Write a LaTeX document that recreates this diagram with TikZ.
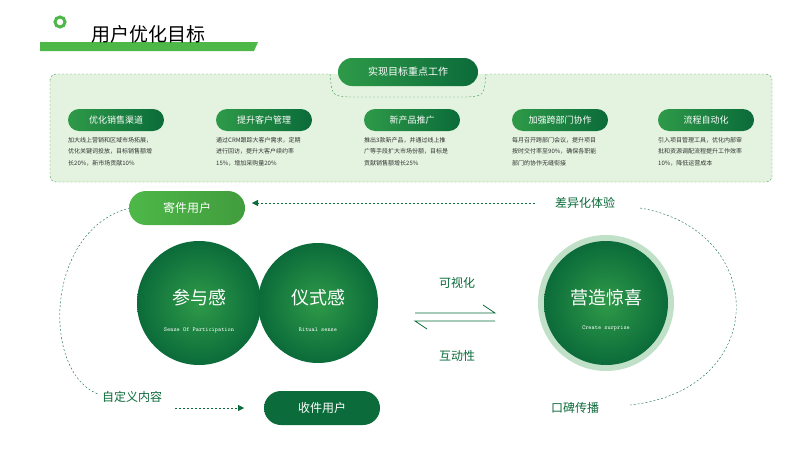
\documentclass[tikz,border=0pt]{standalone}
\usepackage{fontspec}
\setmainfont{Noto Sans CJK SC}
\usetikzlibrary{arrows.meta,shadings}
\definecolor{dg}{HTML}{0B6B3A}
\definecolor{mg}{HTML}{2E9A48}
\definecolor{lg}{HTML}{4DB848}
\definecolor{bx}{HTML}{E3F3DF}
\definecolor{bd}{HTML}{3E9A50}
\tikzset{
 pill/.style={rounded corners=11pt,minimum width=96pt,minimum height=22pt,left color=mg,right color=dg,text=white,font=\fontsize{9}{9}\selectfont},
 desc/.style={anchor=north west,align=left,font=\fontsize{6}{11.5}\selectfont,text=black!80,inner sep=0pt},
 lab/.style={text=dg,font=\fontsize{12}{12}\selectfont},
 dl/.style={dashed,dash pattern=on 2pt off 2pt,dg,thin}
}
\begin{document}
\begin{tikzpicture}[x=1pt,y=-1pt]
\useasboundingbox (0,0) rectangle (800,450);
\fill[white] (0,0) rectangle (800,450);
\draw[lg,line width=3pt] (60,22) circle (5);
\fill[lg] (40,42) -- (258,42) -- (254,51) -- (40,51) -- cycle;
\node[anchor=west,font=\fontsize{19}{19}\selectfont] (title) at (88,34) {用户优化目标};
\draw[bd,fill=bx,dashed,dash pattern=on 2pt off 2pt,rounded corners=6pt] (50,74) rectangle (772,182);
\fill[white] (328,60) rectangle (488,74);
\draw[bd,fill=bx,dashed,dash pattern=on 2pt off 2pt] (330,74) arc (180:90:0) -- (330,74) .. controls (332,96) .. (350,97) -- (466,97) .. controls (484,96) .. (486,74);
\fill[bx] (331,73.5) rectangle (485,80);
\node[pill,minimum width=140pt,minimum height=28pt,rounded corners=14pt,font=\fontsize{10}{10}\selectfont] (tab) at (408,72) {实现目标重点工作};
\foreach \x/\t/\d [count=\i] in {
 116/优化销售渠道/{加大线上营销和区域市场拓展，\\优化关键词投放，目标销售额增\\长20\%，新市场贡献10\%},
 264/提升客户管理/{通过CRM跟踪大客户需求，定期\\进行回访，提升大客户续约率\\15\%，增加采购量20\%},
 412/新产品推广/{推出3款新产品，并通过线上推\\广等手段扩大市场份额，目标是\\贡献销售额增长25\%},
 560/加强跨部门协作/{每月召开跨部门会议，提升项目\\按时交付率至90\%，确保各职能\\部门的协作无缝衔接},
 706/流程自动化/{引入项目管理工具，优化内部审\\批和资源调配流程提升工作效率\\10\%，降低运营成本}}{
 \node[pill] (p\i) at (\x,120) {\t};
 \node[desc] (d\i) at (\x-48,137) {\d};
}
% loop
\draw[dl] (130,208) .. controls (40,230) and (40,390) .. (110,397);
\draw[dl] (640,208) .. controls (770,230) and (770,390) .. (630,405);
\draw[dl,-{Triangle[length=6pt,width=6pt]}] (535,203) -- (252,203);
\draw[dl,-{Triangle[length=6pt,width=6pt]}] (175,408) -- (244,408);
\node[pill,left color=lg,right color=lg!85!black,minimum width=116pt,minimum height=34pt,rounded corners=17pt,font=\fontsize{12}{12}\selectfont] (send) at (187,208) {寄件用户};
\node[pill,left color=dg,right color=dg,minimum width=116pt,minimum height=34pt,rounded corners=17pt,font=\fontsize{12}{12}\selectfont] (recv) at (322,408) {收件用户};
\node[lab,fill=white] (diff) at (585,203) {差异化体验};
\node[lab,fill=white] (cust) at (132,397) {自定义内容};
\node[lab,fill=white] (word) at (575,408) {口碑传播};
% circles
\shade[inner color=mg,outer color=dg] (199,303) circle (62);
\shade[inner color=mg,outer color=dg] (318,303) circle (60);
\fill[mg!30] (606,303) circle (68);
\shade[inner color=mg,outer color=dg] (606,303) circle (62);
\node[text=white,font=\fontsize{18}{18}\selectfont] (c1) at (199,298) {参与感};
\node[text=white,font=\ttfamily\fontsize{6}{6}\selectfont] (c1s) at (199,330) {Sense Of Participation};
\node[text=white,font=\fontsize{18}{18}\selectfont] (c2) at (318,298) {仪式感};
\node[text=white,font=\ttfamily\fontsize{6}{6}\selectfont] (c2s) at (318,330) {Ritual sense};
\node[text=white,font=\fontsize{18}{18}\selectfont] (c3) at (606,298) {营造惊喜};
\node[text=white,font=\ttfamily\fontsize{6}{6}\selectfont] (c3s) at (606,328) {Create surprise};
\coordinate (a1) at (415,313); \coordinate (a2) at (495,313);
\coordinate (b1) at (495,321); \coordinate (b2) at (415,321);
\draw[dg,thick] (a1) -- (a2) -- ++(-12,-8);
\draw[dg,thick] (b1) -- (b2) -- ++(12,8);
\node[lab] (vis) at (457,283) {可视化};
\node[lab] (int) at (457,356) {互动性};
\end{tikzpicture}
\end{document}
